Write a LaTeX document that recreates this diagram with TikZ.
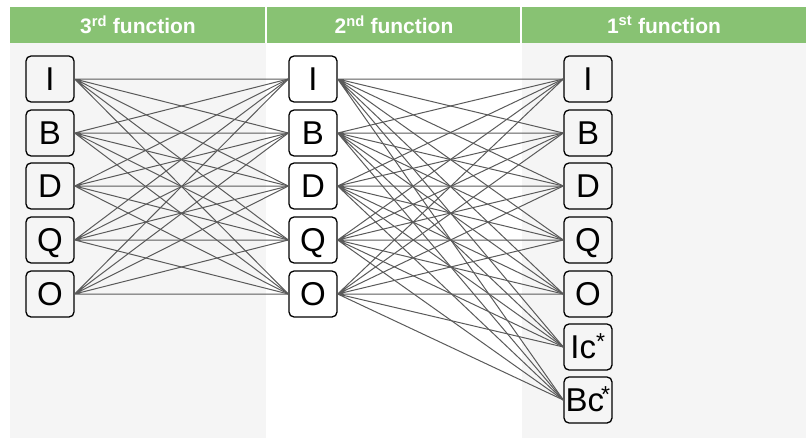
\documentclass[tikz,border=0pt]{standalone}
\usepackage{fontspec}
\setmainfont{Liberation Sans}
\definecolor{headgreen}{RGB}{136,194,115}
\definecolor{colgray}{RGB}{245,245,245}
\definecolor{wiregray}{RGB}{90,90,90}
\tikzset{
  letterbox/.style={draw=black,line width=1.3pt,rounded corners=5pt,fill=white,
    minimum width=48pt,minimum height=46pt,inner sep=0pt,
    text height=23.6pt,text depth=0pt,font=\fontsize{33}{36}\selectfont},
  headtext/.style={text=white,font=\bfseries\fontsize{21}{24}\selectfont},
  wire/.style={wiregray,line width=1pt}
}
\begin{document}
\begin{tikzpicture}[x=1pt,y=-1pt]
        \useasboundingbox (0,0) rectangle (811,439);
        % фон
        \fill[colgray] (10,43) rectangle (266,438);
        \fill[colgray] (522,43) rectangle (806,438);
        % шапка
        \fill[headgreen] (10,7) rectangle (265,43);
        \fill[headgreen] (267,7) rectangle (520,43);
        \fill[headgreen] (522,7) rectangle (806,43);
        \node[headtext] (h3) at (138,25) {3\textsuperscript{rd} function};
        \node[headtext] (h2) at (394,25) {2\textsuperscript{nd} function};
        \node[headtext] (h1) at (664,25) {1\textsuperscript{st} function};

        % левый столбец
        \node[letterbox,fill=colgray] (lI) at (50,79) {I};
        \node[letterbox,fill=colgray] (lB) at (50,133) {B};
        \node[letterbox,fill=colgray] (lD) at (50,186) {D};
        \node[letterbox,fill=colgray] (lQ) at (50,240) {Q};
        \node[letterbox,fill=colgray] (lO) at (50,294) {O};
        % средний столбец
        \node[letterbox] (mI) at (313,79) {I};
        \node[letterbox] (mB) at (313,133) {B};
        \node[letterbox] (mD) at (313,186) {D};
        \node[letterbox] (mQ) at (313,240) {Q};
        \node[letterbox] (mO) at (313,294) {O};
        % правый столбец
        \node[letterbox,fill=colgray] (rI) at (588,79) {I};
        \node[letterbox,fill=colgray] (rB) at (588,133) {B};
        \node[letterbox,fill=colgray] (rD) at (588,186) {D};
        \node[letterbox,fill=colgray] (rQ) at (588,240) {Q};
        \node[letterbox,fill=colgray] (rO) at (588,294) {O};
        \node[letterbox,fill=colgray] (rIc) at (588,347) {Ic\textsuperscript{*}};
        \node[letterbox,fill=colgray] (rBc) at (588,400) {Bc\kern-3pt\textsuperscript{*}};

        % 3 -> 2
        \draw[wire] (lI.east) -- (mI.west) (lI.east) -- (mB.west) (lI.east) -- (mD.west) (lI.east) -- (mQ.west) (lI.east) -- (mO.west);
        \draw[wire] (lB.east) -- (mI.west) (lB.east) -- (mB.west) (lB.east) -- (mD.west) (lB.east) -- (mQ.west) (lB.east) -- (mO.west);
        \draw[wire] (lD.east) -- (mI.west) (lD.east) -- (mB.west) (lD.east) -- (mD.west) (lD.east) -- (mQ.west) (lD.east) -- (mO.west);
        \draw[wire] (lQ.east) -- (mI.west) (lQ.east) -- (mB.west) (lQ.east) -- (mD.west) (lQ.east) -- (mQ.west) (lQ.east) -- (mO.west);
        \draw[wire] (lO.east) -- (mI.west) (lO.east) -- (mB.west) (lO.east) -- (mD.west) (lO.east) -- (mQ.west) (lO.east) -- (mO.west);

        % 2 -> 1
        \draw[wire] (mI.east) -- (rI.west) (mI.east) -- (rB.west) (mI.east) -- (rD.west) (mI.east) -- (rQ.west) (mI.east) -- (rO.west) (mI.east) -- (rIc.west) (mI.east) -- (rBc.west);
        \draw[wire] (mB.east) -- (rI.west) (mB.east) -- (rB.west) (mB.east) -- (rD.west) (mB.east) -- (rQ.west) (mB.east) -- (rO.west) (mB.east) -- (rIc.west) (mB.east) -- (rBc.west);
        \draw[wire] (mD.east) -- (rI.west) (mD.east) -- (rB.west) (mD.east) -- (rD.west) (mD.east) -- (rQ.west) (mD.east) -- (rO.west) (mD.east) -- (rIc.west) (mD.east) -- (rBc.west);
        \draw[wire] (mQ.east) -- (rI.west) (mQ.east) -- (rB.west) (mQ.east) -- (rD.west) (mQ.east) -- (rQ.west) (mQ.east) -- (rO.west) (mQ.east) -- (rIc.west) (mQ.east) -- (rBc.west);
        \draw[wire] (mO.east) -- (rI.west) (mO.east) -- (rB.west) (mO.east) -- (rD.west) (mO.east) -- (rQ.west) (mO.east) -- (rO.west) (mO.east) -- (rIc.west) (mO.east) -- (rBc.west);
\end{tikzpicture}
\end{document}
